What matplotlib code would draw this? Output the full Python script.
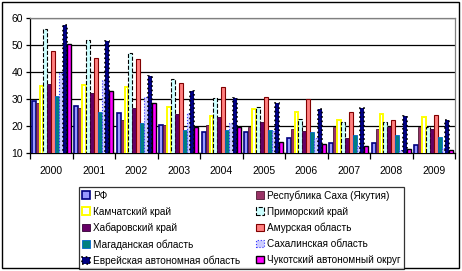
import matplotlib
matplotlib.use("Agg")
import matplotlib.pyplot as plt
from matplotlib.patches import Rectangle
import numpy as np

plt.rcParams['font.family'] = ['Liberation Sans', 'DejaVu Sans']

years = ['2000', '2001', '2002', '2003', '2004', '2005', '2006', '2007', '2008', '2009']

rf          = [29.2, 27.4, 24.7, 20.3, 17.6, 17.6, 15.5, 13.6, 13.6, 12.8]
sakha       = [28.4, 26.5, 22.2, 20.3, 20.2, 19.7, 18.8, 19.7, 18.9, 19.7]
kamchatka   = [34.9, 35.1, 34.3, 26.9, 23.8, 26.2, 25.3, 22.2, 24.3, 23.2]
primorsky   = [55.8, 52.0, 46.9, 37.3, 30.2, 27.1, 22.6, 21.3, 21.4, 19.5]
khabarovsk  = [35.4, 32.1, 26.5, 24.4, 23.4, 21.4, 18.0, 15.5, 19.7, 18.8]
amur        = [47.8, 45.1, 44.7, 35.8, 34.3, 30.9, 29.9, 25.3, 22.1, 24.0]
magadan     = [31.1, 25.3, 21.0, 18.4, 18.4, 18.7, 17.6, 16.5, 16.5, 15.8]
sakhalin    = [39.7, 37.0, 30.9, 24.8, 21.1, 18.3, 15.4, 12.7, 11.2, 11.9]
jewish      = [57.4, 51.4, 38.4, 33.0, 30.2, 28.4, 26.3, 26.5, 23.6, 22.1]
chukotka    = [50.2, 33.0, 28.6, 19.5, 19.7, 14.2, 13.5, 12.5, 11.5, 11.1]

names = ['РФ', 'Республика Саха (Якутия)', 'Камчатский край', 'Приморский край',
         'Хабаровский край', 'Амурская область', 'Магаданская область',
         'Сахалинская область', 'Еврейская автономная область',
         'Чукотский автономный округ']
series = [rf, sakha, kamchatka, primorsky, khabarovsk, amur, magadan,
          sakhalin, jewish, chukotka]

# fill, edge, linestyle, linewidth
styles = [
    ('#9999FF', '#000080', '-', 1.2),
    ('#993366', '#4d1a33', '-', 0.6),
    ('#FFFFFF', '#FFFF00', '-', 1.4),
    ('#CCFFFF', '#000000', '--', 0.8),
    ('#660066', '#330033', '-', 0.6),
    ('#FF8080', '#800000', '-', 0.8),
    ('#008080', '#0066CC', '-', 0.6),
    ('#CCCCFF', '#3333FF', ':', 0.8),
    ('#000080', '#000000', ':', 1.2),
    ('#FF00FF', '#000000', '-', 1.0),
]

fig = plt.figure(figsize=(4.62, 2.71), dpi=100)
ax = fig.add_axes([30 / 462, 1 - 153 / 271, 425 / 462, 135 / 271])

x = np.arange(len(years))
n = len(series)
w = 0.092
handles = []
for i, (vals, nm, st) in enumerate(zip(series, names, styles)):
    fc, ec, ls, lw = st
    off = (i - (n - 1) / 2) * w
    b = ax.bar(x + off, vals, width=w, color=fc, edgecolor=ec,
               linestyle=ls, linewidth=lw, label=nm, zorder=3)
    handles.append(b)

ax.set_ylim(10, 60)
ax.set_xlim(-0.5, len(years) - 0.5)
ax.set_yticks([10, 20, 30, 40, 50, 60])
ax.yaxis.grid(True, color='black', linewidth=0.9, zorder=0)
ax.set_axisbelow(True)
ax.set_xticks(x)
ax.set_xticklabels(years)
ax.set_xticks(np.arange(-0.5, len(years)), minor=True)
ax.tick_params(axis='x', which='major', length=0, pad=9, labelsize=7.5)
ax.tick_params(axis='x', which='minor', length=4, width=0.9, direction='out')
ax.tick_params(axis='y', length=3, width=0.9, labelsize=7.5, pad=2)
for s in ['top', 'right']:
    ax.spines[s].set_color('#808080')
    ax.spines[s].set_linewidth(0.9)
for s in ['left', 'bottom']:
    ax.spines[s].set_color('black')
    ax.spines[s].set_linewidth(0.9)

# legend fills column-wise, so reorder to get the row-wise layout
order = [0, 2, 4, 6, 8, 1, 3, 5, 7, 9]
leg = fig.legend([handles[k] for k in order], [names[k] for k in order],
                 ncol=2, loc='lower left',
                 bbox_to_anchor=(79 / 462, 1 - 269 / 271, 325 / 462, 83 / 271),
                 mode='expand', fontsize=7.2, frameon=True, fancybox=False,
                 edgecolor='black', handlelength=0.8, handleheight=0.8,
                 handletextpad=0.3, columnspacing=0.3, labelspacing=0.6,
                 borderpad=0.3, borderaxespad=0)
leg.get_frame().set_linewidth(0.9)

fig.patches.append(Rectangle((2 / 462, 3 / 271), 457 / 462, 266 / 271,
                             transform=fig.transFigure, fill=False,
                             edgecolor='black', linewidth=1.0))

fig.savefig('out.png', dpi=100)
